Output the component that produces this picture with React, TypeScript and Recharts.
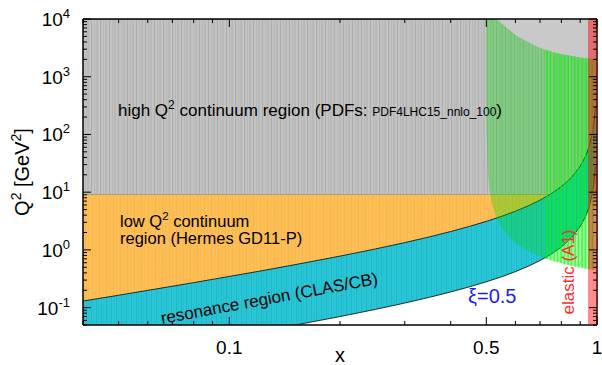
import { ComposedChart, Area, XAxis, YAxis, ReferenceArea } from 'recharts'

// resonance region boundaries (W = 2 GeV on top, W = M + m_pi at the bottom), Q2 in GeV^2
const wX = [0.04, 0.05, 0.06, 0.08, 0.1, 0.12, 0.15, 0.2, 0.25, 0.3, 0.35, 0.4, 0.45, 0.5, 0.55, 0.6, 0.65, 0.7, 0.7426, 0.75, 0.8, 0.85, 0.9, 0.93, 0.95, 0.97, 0.98, 0.99]
const wHigh = [0.13, 0.164, 0.199, 0.271, 0.347, 0.425, 0.551, 0.78, 1.04, 1.337, 1.68, 2.08, 2.553, 3.12, 3.813, 4.68, 5.794, 7.28, 9.0, 9.36, 12.48, 17.68, 28.08, 41.45, 59.28, 100.9, 152.9, 308.9]
const wLow = [0.01167, 0.01474, 0.01787, 0.02435, 0.03111, 0.03818, 0.04941, 0.07, 0.0933, 0.12, 0.1508, 0.1867, 0.2291, 0.28, 0.3422, 0.42, 0.52, 0.6533, 0.808, 0.84, 1.12, 1.587, 2.52, 3.72, 5.32, 9.053, 13.72, 27.72]

const xiX = [0.5, 0.5002, 0.501, 0.505, 0.51, 0.518, 0.53, 0.544, 0.56, 0.6, 0.65, 0.7, 0.72, 0.76, 0.8, 0.85, 0.9, 0.95, 0.99]
const xiLow = [10000, 550, 110, 22.2, 11.22, 6.33, 3.887, 2.72, 2.053, 1.32, 0.953, 0.77, 0.72, 0.643, 0.587, 0.534, 0.495, 0.464, 0.4445]
const xiTop = [10000, 10000, 10000, 10000, 10000, 10000, 10000, 9000, 7600, 5300, 3950, 3150, 2950, 2650, 2450, 2320, 2150, 2060, 2000]

const Q2_CUT = 9
const Q2_MAX = 10000
const ELASTIC = [0.945, 1]

const xTicks = [0.04, 0.05, 0.06, 0.07, 0.08, 0.09, 0.1, 0.2, 0.3, 0.4, 0.5, 0.6, 0.7, 0.8, 0.9, 1]
const xLabels = [0.1, 0.5, 1]
const yTicks = [0.05, 0.06, 0.07, 0.08, 0.09, 0.1, 0.2, 0.3, 0.4, 0.5, 0.6, 0.7, 0.8, 0.9, 1, 2, 3, 4, 5, 6, 7, 8, 9,
  10, 20, 30, 40, 50, 60, 70, 80, 90, 100, 200, 300, 400, 500, 600, 700, 800, 900,
  1000, 2000, 3000, 4000, 5000, 6000, 7000, 8000, 9000, 10000]
const yMajor = [0.1, 1, 10, 100, 1000, 10000]
const yExp = ['-1', '0', '1', '2', '3', '4']

const allX = Array.from(new Set([...wX, ...xiX, 1])).sort((a, b) => a - b)
const rows = allX.map(x => {
  const i = wX.indexOf(x)
  const j = xiX.indexOf(x)
  return {
    x,
    gray: [Q2_CUT, Q2_MAX],
    grayHi: j >= 0 ? [xiTop[j], Q2_MAX] : null,
    orange: i >= 0 && wHigh[i] <= Q2_CUT ? [wHigh[i], Q2_CUT] : null,
    res: i >= 0 ? [wLow[i], wHigh[i]] : null,
    xi: j >= 0 ? [xiLow[j], xiTop[j]] : null,
    xiBright: j >= 0 && x >= 0.72 ? [xiLow[j], xiTop[j]] : null,
  }
})

const FONT = '"Liberation Sans", Arial, Helvetica, sans-serif'

const BottomTick = (p: any) => {
  const v = p.payload.value
  const major = xLabels.includes(v)
  return (
    <g>
      <line x1={p.x} x2={p.x} y1={p.y} y2={p.y - (major ? 8 : 4)} stroke="#000" />
      {major && (
        <text x={p.x} y={p.y + 29} textAnchor="middle" fontSize={19} fontFamily={FONT} fill="#000">{String(v)}</text>
      )}
    </g>
  )
}

const TopTick = (p: any) => {
  const major = xLabels.includes(p.payload.value)
  return <line x1={p.x} x2={p.x} y1={p.y} y2={p.y + (major ? 8 : 4)} stroke="#000" />
}

const LeftTick = (p: any) => {
  const k = yMajor.indexOf(p.payload.value)
  return (
    <g>
      <line x1={p.x} x2={p.x + (k >= 0 ? 8 : 4)} y1={p.y} y2={p.y} stroke="#000" />
      {k >= 0 && (
        <text x={p.x - 13} y={p.y + 7} textAnchor="end" fontSize={19} fontFamily={FONT} fill="#000">
          10<tspan dy={-8} fontSize={13}>{yExp[k]}</tspan>
        </text>
      )}
    </g>
  )
}

const RightTick = (p: any) => {
  const major = yMajor.includes(p.payload.value)
  return <line x1={p.x} x2={p.x - (major ? 8 : 4)} y1={p.y} y2={p.y} stroke="#000" />
}

const axisLine = { stroke: '#000', strokeWidth: 1.5 }

export default function App() {
  return (
    <div style={{ position: 'absolute', left: 0, top: 0, width: 602, height: 365, background: '#fff' }}>
      <ComposedChart width={602} height={365} data={rows} margin={{ top: 18, right: 4, bottom: 39, left: 82 }}>
        <defs>
          <pattern id="pGray" width="9" height="10" patternUnits="userSpaceOnUse">
            <rect width="9" height="10" fill="#c3c3c3" />
            <rect x="1" width="1" height="10" fill="#acacac" />
            <rect x="4" width="0.7" height="10" fill="#b4b4b4" />
            <rect x="6.5" width="1" height="10" fill="#adadad" />
          </pattern>
          <pattern id="pOrange" width="7" height="10" patternUnits="userSpaceOnUse">
            <rect width="7" height="10" fill="#fdbf55" />
            <rect x="1" width="1" height="10" fill="#f6b64a" />
            <rect x="4.5" width="0.8" height="10" fill="#f8b94e" />
          </pattern>
          <pattern id="pCyan" width="5" height="10" patternUnits="userSpaceOnUse">
            <rect width="5" height="10" fill="#2ac6d6" />
            <rect x="1" width="1" height="10" fill="#1cb9ca" />
            <rect x="3.5" width="0.7" height="10" fill="#22bfd0" />
          </pattern>
          <pattern id="pBright" width="3.5" height="10" patternUnits="userSpaceOnUse">
            <rect x="0.5" width="1" height="10" fill="#00ff00" />
          </pattern>
        </defs>

        <XAxis dataKey="x" type="number" scale="log" domain={[0.04, 1]} allowDataOverflow ticks={xTicks}
          interval={0} height={1} tickSize={0} tickMargin={0} tickLine={false} axisLine={axisLine} tick={BottomTick} />
        <XAxis xAxisId="top" orientation="top" dataKey="x" type="number" scale="log" domain={[0.04, 1]} allowDataOverflow
          ticks={xTicks} interval={0} height={1} tickSize={0} tickMargin={0} tickLine={false} axisLine={axisLine} tick={TopTick} />
        <YAxis type="number" scale="log" domain={[0.05, 10000]} allowDataOverflow ticks={yTicks} interval={0}
          width={1} tickSize={0} tickMargin={0} tickLine={false} axisLine={axisLine} tick={LeftTick} />
        <YAxis yAxisId="right" orientation="right" type="number" scale="log" domain={[0.05, 10000]} allowDataOverflow
          ticks={yTicks} interval={0} width={1} tickSize={0} tickMargin={0} tickLine={false} axisLine={axisLine} tick={RightTick} />

        <Area dataKey="gray" type="linear" fill="url(#pGray)" fillOpacity={1} stroke="#7a7a7a" strokeWidth={1}
          connectNulls isAnimationActive={false} />
        <Area dataKey="grayHi" type="linear" fill="#c9c9c9" fillOpacity={1} stroke="none"
          connectNulls isAnimationActive={false} />
        <Area dataKey="orange" type="linear" fill="url(#pOrange)" fillOpacity={1} stroke="none"
          connectNulls isAnimationActive={false} />
        <Area dataKey="res" type="linear" fill="url(#pCyan)" fillOpacity={1} stroke="#000" strokeWidth={0.8}
          connectNulls isAnimationActive={false} />
        <Area dataKey="xi" type="linear" fill="#00d800" fillOpacity={0.33} stroke="none"
          connectNulls isAnimationActive={false} />
        <Area dataKey="xiBright" type="linear" fill="url(#pBright)" fillOpacity={1} stroke="none"
          connectNulls isAnimationActive={false} />

        <ReferenceArea x1={ELASTIC[0]} x2={ELASTIC[1]} fill="#ff0000" fillOpacity={0.45} stroke="none" zIndex={900} />
      </ComposedChart>

      <svg width={602} height={365} style={{ position: 'absolute', left: 0, top: 0, pointerEvents: 'none' }}
        fontFamily={FONT}>
        <text x={118} y={116} fontSize={17} fill="#000">
          high Q<tspan dy={-7} fontSize={12}>2</tspan>
          <tspan dy={7}>{' continuum region (PDFs: '}</tspan>
          <tspan fontSize={12}>PDF4LHC15_nnlo_100</tspan>)
        </text>
        <text x={120} y={227} fontSize={16.5} fill="#000">
          low Q<tspan dy={-7} fontSize={11.5}>2</tspan><tspan dy={7}>{' continuum'}</tspan>
        </text>
        <text x={120} y={244} fontSize={16.5} fill="#000">region (Hermes GD11-P)</text>
        <text transform="translate(162,324) rotate(-10.5)" fontSize={17} fill="#000">resonance region (CLAS/CB)</text>
        <text x={468} y={303} fontSize={20} fill="#1c1cff">ξ=0.5</text>
        <text transform="translate(574,272) rotate(-90)" textAnchor="middle" fontSize={17} fill="#ff2a2a">elastic (A1)</text>
        <text x={340} y={362} textAnchor="middle" fontSize={20} fill="#000">x</text>
        <text transform="translate(29,172) rotate(-90)" textAnchor="middle" fontSize={20} fill="#000">
          Q<tspan dy={-8} fontSize={14}>2</tspan><tspan dy={8}>{' [GeV'}</tspan><tspan dy={-8} fontSize={14}>2</tspan><tspan dy={8}>]</tspan>
        </text>
      </svg>
    </div>
  )
}
